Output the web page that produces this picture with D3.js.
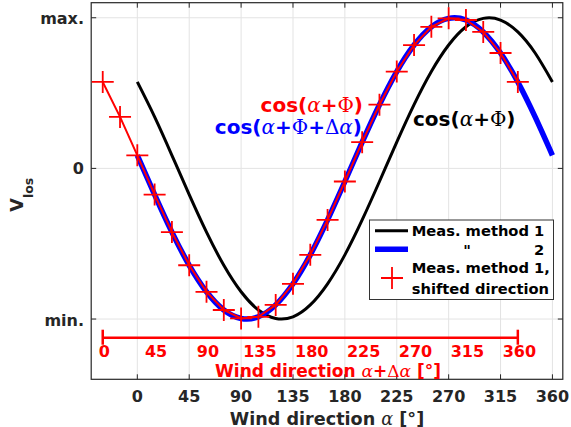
<!DOCTYPE html>
<html>
<head>
<meta charset="utf-8">
<script src="https://cdn.jsdelivr.net/npm/d3@7"></script>
<style>
  body { margin: 0; background: #fff; }
  svg { display: block; }
  text { font-family: "DejaVu Sans", sans-serif; font-weight: bold; }
  .greek { font-family: "DejaVu Serif", serif; font-weight: normal; }
</style>
</head>
<body>
<svg id="chart"></svg>
<script>
"use strict";

var Width = 571,
    Height = 427;

// wind directions of the samples (deg)
var directions = [0, 15, 30, 45, 60, 75, 90, 105, 120, 135, 150, 165, 180,
                  195, 210, 225, 240, 255, 270, 285, 300, 315, 330, 345, 360];

// method 1 (black), normalised V_los
var method1 = [0.574, 0.342, 0.087, -0.174, -0.423, -0.643, -0.819, -0.940, -0.996,
               -0.985, -0.906, -0.766, -0.574, -0.342, -0.087, 0.174, 0.423, 0.643,
               0.819, 0.940, 0.996, 0.985, 0.906, 0.766, 0.574];

// method 2 (blue)
var method2 = [0.087, -0.174, -0.423, -0.643, -0.819, -0.940, -0.996, -0.985, -0.906,
               -0.766, -0.574, -0.342, -0.087, 0.174, 0.423, 0.643, 0.819, 0.940,
               0.996, 0.985, 0.906, 0.766, 0.574, 0.342, 0.087];

// direction shift applied to method 1 (red crosses)
var shift = -30;

var xTicks = [0, 45, 90, 135, 180, 225, 270, 315, 360];
var yTicks = [-1, 0, 1];
var yTickLabels = ["min.", "0", "max."];

var x = d3.scaleLinear().domain([-40, 369]).range([91.2, 562.8]);
var y = d3.scaleLinear().domain([-1.4, 1.1]).range([379.3, 2.7]);

var svg = d3.select("#chart")
    .attr("width", Width)
    .attr("height", Height);

svg.append("rect")
    .attr("width", Width)
    .attr("height", Height)
    .attr("fill", "#fff");

var x0 = x.range()[0], x1 = x.range()[1],
    yTop = y.range()[1], yBot = y.range()[0];

// grid
var grid = svg.append("g").attr("stroke", "#e3e3e3").attr("stroke-width", 1);
grid.selectAll(".vg").data(xTicks).enter().append("line")
    .attr("x1", function (d) { return x(d); })
    .attr("x2", function (d) { return x(d); })
    .attr("y1", yTop).attr("y2", yBot);
grid.selectAll(".hg").data(yTicks).enter().append("line")
    .attr("y1", function (d) { return y(d); })
    .attr("y2", function (d) { return y(d); })
    .attr("x1", x0).attr("x2", x1);

// box + inward ticks
var axisColor = "#262626";
svg.append("rect")
    .attr("x", x0).attr("y", yTop)
    .attr("width", x1 - x0).attr("height", yBot - yTop)
    .attr("fill", "none").attr("stroke", axisColor).attr("stroke-width", 1.2);

var ticks = svg.append("g").attr("stroke", axisColor).attr("stroke-width", 1);
xTicks.forEach(function (d) {
    ticks.append("line").attr("x1", x(d)).attr("x2", x(d)).attr("y1", yBot).attr("y2", yBot - 5);
    ticks.append("line").attr("x1", x(d)).attr("x2", x(d)).attr("y1", yTop).attr("y2", yTop + 5);
});
yTicks.forEach(function (d) {
    ticks.append("line").attr("y1", y(d)).attr("y2", y(d)).attr("x1", x0).attr("x2", x0 + 5);
    ticks.append("line").attr("y1", y(d)).attr("y2", y(d)).attr("x1", x1).attr("x2", x1 - 5);
});

// tick labels
svg.append("g").selectAll("text").data(xTicks).enter().append("text")
    .attr("x", function (d) { return x(d); })
    .attr("y", 402.3)
    .attr("text-anchor", "middle")
    .attr("font-size", 16)
    .attr("fill", axisColor)
    .text(function (d) { return d; });

svg.append("g").selectAll("text").data(yTicks).enter().append("text")
    .attr("x", 84)
    .attr("y", function (d) { return y(d) + (d === 0 ? 5.8 : 6.5); })
    .attr("text-anchor", "end")
    .attr("font-size", 16)
    .attr("fill", axisColor)
    .text(function (d, i) { return yTickLabels[i]; });

// axis labels
var xl = svg.append("text")
    .attr("x", 327).attr("y", 424.5)
    .attr("text-anchor", "middle")
    .attr("font-size", 17.6)
    .attr("fill", axisColor);
xl.append("tspan").text("Wind direction ");
xl.append("tspan").attr("class", "greek").attr("font-style", "italic").text("α");
xl.append("tspan").text(" [°]");

var yl = svg.append("text")
    .attr("transform", "translate(23,211.7) rotate(-90)")
    .attr("fill", axisColor);
yl.append("tspan").attr("font-size", 17.6).text("V");
yl.append("tspan").attr("font-size", 12.5).attr("dy", 9.5).text("los");

// curves
var smooth = d3.line()
    .x(function (d) { return x(d[0]); })
    .y(function (d) { return y(d[1]); })
    .curve(d3.curveNatural);

var m1 = directions.map(function (d, i) { return [d, method1[i]]; });
var m2 = directions.map(function (d, i) { return [d, method2[i]]; });
var shifted = directions.map(function (d, i) { return [d + shift, method1[i]]; });

svg.append("path").datum(m1)
    .attr("d", smooth)
    .attr("fill", "none").attr("stroke", "#000").attr("stroke-width", 3);

svg.append("path").datum(m2)
    .attr("d", smooth)
    .attr("fill", "none").attr("stroke", "#0000ff").attr("stroke-width", 5.5);

svg.append("path").datum(shifted)
    .attr("d", d3.line()
        .x(function (d) { return x(d[0]); })
        .y(function (d) { return y(d[1]); }))
    .attr("fill", "none").attr("stroke", "#ff0000").attr("stroke-width", 2);

var cross = "M-11,0H11M0,-11V11";
svg.append("g").selectAll("path").data(shifted).enter().append("path")
    .attr("transform", function (d) { return "translate(" + x(d[0]) + "," + y(d[1]) + ")"; })
    .attr("d", cross)
    .attr("stroke", "#ff0000").attr("stroke-width", 1.8).attr("fill", "none");

// shifted direction axis (red)
var redY = 337.7;
var red = svg.append("g").attr("fill", "#ff0000");
red.append("line")
    .attr("x1", x(xTicks[0] + shift)).attr("x2", x(xTicks[xTicks.length - 1] + shift))
    .attr("y1", redY).attr("y2", redY)
    .attr("stroke", "#ff0000").attr("stroke-width", 2.5);
[xTicks[0], xTicks[xTicks.length - 1]].forEach(function (d) {
    red.append("line")
        .attr("x1", x(d + shift)).attr("x2", x(d + shift))
        .attr("y1", redY - 8).attr("y2", redY + 7)
        .attr("stroke", "#ff0000").attr("stroke-width", 2.5);
});
red.selectAll("text.t").data(xTicks).enter().append("text")
    .attr("x", function (d) { return x(d + shift) + 1.5; })
    .attr("y", 356.8)
    .attr("text-anchor", "middle")
    .attr("font-size", 16)
    .text(function (d) { return d; });
var rl = red.append("text")
    .attr("x", 328).attr("y", 376.5)
    .attr("text-anchor", "middle")
    .attr("font-size", 17);
rl.append("tspan").text("Wind direction ");
rl.append("tspan").attr("class", "greek").attr("font-style", "italic").text("α");
rl.append("tspan").text("+");
rl.append("tspan").attr("class", "greek").text("Δ");
rl.append("tspan").attr("class", "greek").attr("font-style", "italic").text("α");
rl.append("tspan").text(" [°]");

// annotations
function cosLabel(xp, yp, anchor, color, withDelta) {
    var t = svg.append("text")
        .attr("x", xp).attr("y", yp)
        .attr("text-anchor", anchor)
        .attr("font-size", 20)
        .attr("fill", color);
    t.append("tspan").text("cos(");
    t.append("tspan").attr("class", "greek").attr("font-style", "italic").text("α");
    t.append("tspan").text("+");
    t.append("tspan").attr("class", "greek").text("Φ");
    if (withDelta) {
        t.append("tspan").text("+");
        t.append("tspan").attr("class", "greek").text("Δ");
        t.append("tspan").attr("class", "greek").attr("font-style", "italic").text("α");
    }
    t.append("tspan").text(")");
}
cosLabel(363, 112.3, "end", "#ff0000", false);
cosLabel(362, 134, "end", "#0000ff", true);
cosLabel(413, 126, "start", "#000", false);

// legend
var lg = svg.append("g");
lg.append("rect")
    .attr("x", 369.5).attr("y", 220)
    .attr("width", 184).attr("height", 79.5)
    .attr("fill", "#fff").attr("stroke", "#333").attr("stroke-width", 1);
lg.append("line").attr("x1", 375).attr("x2", 408).attr("y1", 230.7).attr("y2", 230.7)
    .attr("stroke", "#000").attr("stroke-width", 3);
lg.append("line").attr("x1", 375).attr("x2", 408).attr("y1", 249.3).attr("y2", 249.3)
    .attr("stroke", "#0000ff").attr("stroke-width", 5.5);
lg.append("path").attr("transform", "translate(392,278)").attr("d", cross)
    .attr("stroke", "#ff0000").attr("stroke-width", 1.8).attr("fill", "none");

var legFont = 14.7;
lg.append("text").attr("x", 411.7).attr("y", 236).attr("font-size", legFont).attr("fill", "#000").text("Meas. method 1");
lg.append("text").attr("x", 467).attr("y", 254.5).attr("text-anchor", "middle").attr("font-size", legFont).attr("fill", "#000").text("\"");
lg.append("text").attr("x", 544.3).attr("y", 254.5).attr("text-anchor", "end").attr("font-size", legFont).attr("fill", "#000").text("2");
lg.append("text").attr("x", 411.7).attr("y", 272.5).attr("font-size", legFont).attr("fill", "#000").text("Meas. method 1,");
lg.append("text").attr("x", 411.7).attr("y", 293.5).attr("font-size", legFont).attr("fill", "#000").text("shifted direction");
</script>
</body>
</html>
